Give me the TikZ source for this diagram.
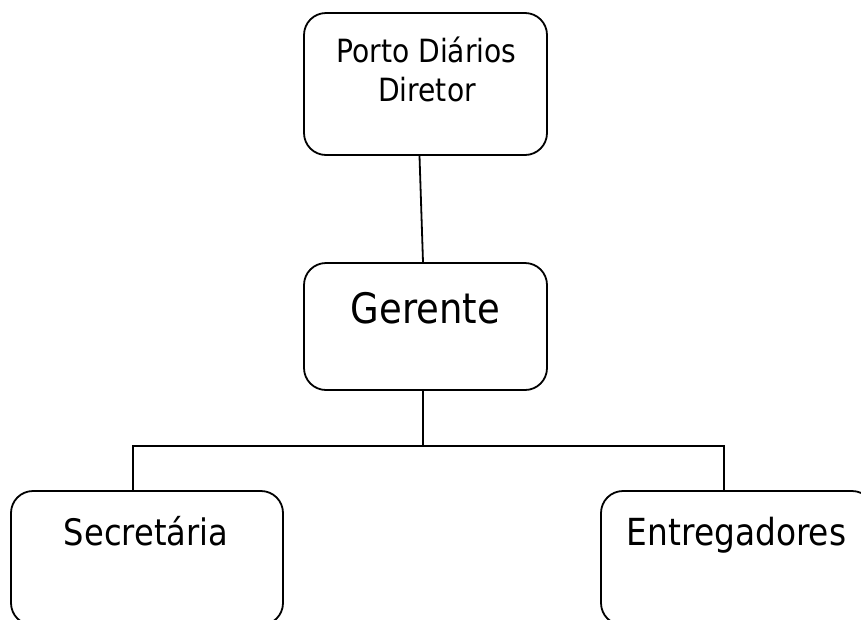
\documentclass[tikz,border=0pt]{standalone}
\usepackage{fontspec}
\newfontfamily\tah[FakeStretch=0.88]{DejaVu Sans}
\begin{document}
\begin{tikzpicture}[x=1pt,y=-1pt,
  box/.style={draw=black,line width=1.8pt,rounded corners=22pt,fill=white,inner sep=0pt},
  txt/.style={inner sep=0pt,text=black,anchor=base},
  conn/.style={draw=black,line width=1.8pt}]
\useasboundingbox (0,0) rectangle (861,619);
\clip (0,0) rectangle (861,619);
\fill[white] (0,0) rectangle (861,619);
% boxes
\node[box,minimum width=243pt,minimum height=142pt] (dir) at (425.5,84) {};
\node[box,minimum width=243pt,minimum height=127pt] (ger) at (425.5,326.5) {};
\node[box,minimum width=272pt,minimum height=134pt] (sec) at (147,558) {};
\node[box,minimum width=273pt,minimum height=134pt] (ent) at (737.5,558) {};
% texts
\node[txt,font=\tah\fontsize{32pt}{38pt}\selectfont] (dirt1) at (426.5,62) {Porto Diários};
\node[txt,font=\tah\fontsize{32pt}{38pt}\selectfont] (dirt2) at (427,101) {Diretor};
\node[txt,font=\tah\fontsize{42pt}{48pt}\selectfont] (gert) at (425.5,323) {Gerente};
\node[txt,font=\tah\fontsize{36.5pt}{44pt}\selectfont] (sect) at (146,545) {Secretária};
\node[txt,font=\tah\fontsize{37.3pt}{44pt}\selectfont] (entt) at (736.5,545) {Entregadores};
% connectors
\coordinate (j) at (423,446);
\coordinate (jl) at (133,446);
\coordinate (jr) at (724,446);
\draw[conn] ([xshift=-6pt]dir.south) -- ([xshift=-2.5pt]ger.north);
\draw[conn] ([xshift=-2.5pt]ger.south) -- (j);
\draw[conn] (sec.north -| jl) -- (jl) -- (jr) -- (ent.north -| jr);
\end{tikzpicture}
\end{document}
